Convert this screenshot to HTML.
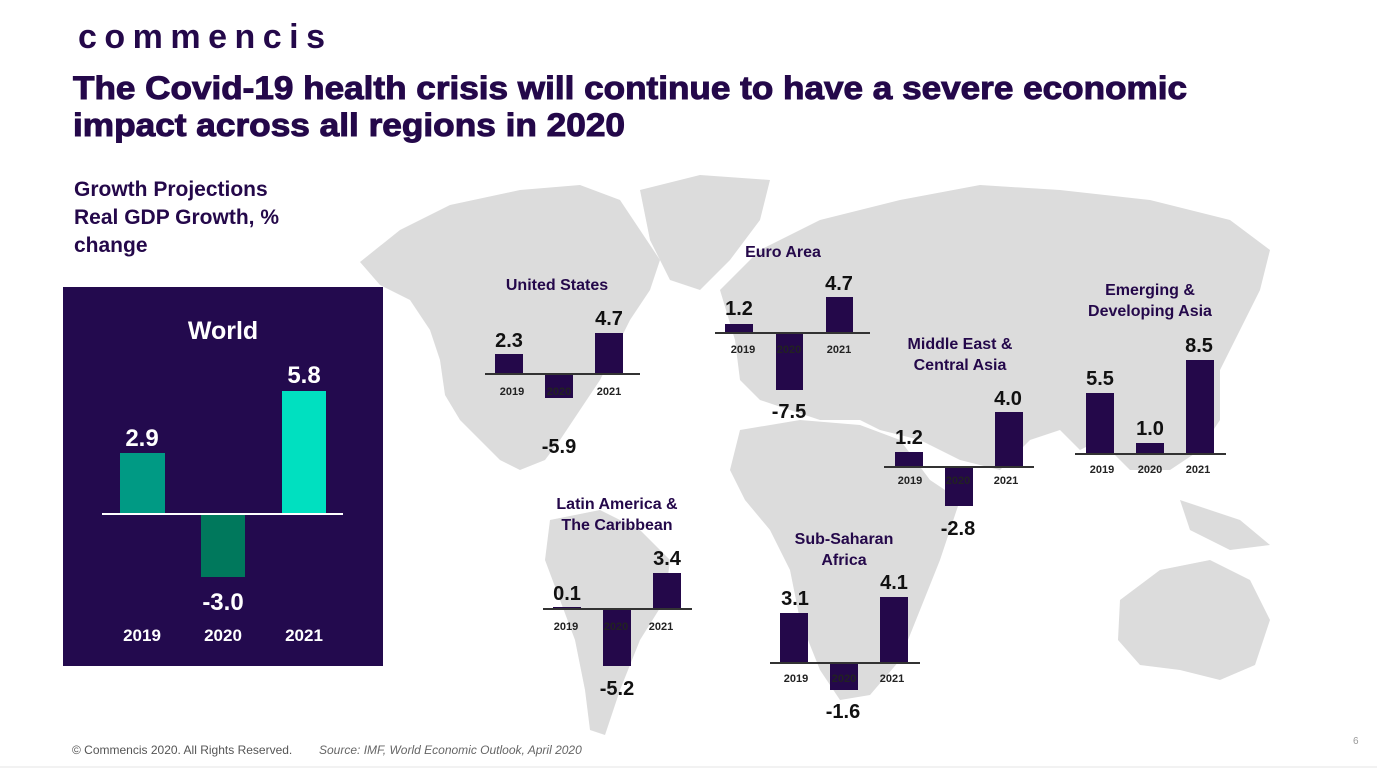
<!DOCTYPE html>
<html><head><meta charset="utf-8"><style>
html,body{margin:0;padding:0;background:#fff;}
svg{display:block;font-family:"Liberation Sans",sans-serif;}
.rt{font-weight:bold;font-size:16px;fill:#24084a;text-anchor:middle;}
.rv{font-weight:bold;font-size:20px;fill:#111;text-anchor:middle;}
.ry{font-weight:bold;font-size:11px;fill:#222;text-anchor:middle;}
.b{fill:#24084a;}
.bl{stroke:#333;stroke-width:2;}
</style></head><body>
<svg width="1377" height="768" viewBox="0 0 1377 768">
<rect width="1377" height="768" fill="#fff"/>
<g fill="#dcdcdc">
<path d="M360 262 L400 230 L450 205 L520 190 L580 185 L620 200 L640 230 L660 260 L650 290 L630 320 L615 350 L600 380 L580 410 L560 440 L545 460 L520 470 L500 460 L480 440 L460 420 L445 395 L440 360 L430 330 L410 300 L380 285 Z"/>
<path d="M640 190 L700 175 L770 180 L760 220 L730 260 L700 290 L670 280 L650 240 Z"/>
<path d="M720 290 L760 250 L820 220 L900 200 L980 185 L1060 190 L1150 200 L1230 220 L1270 250 L1260 290 L1240 330 L1220 370 L1220 420 L1200 450 L1170 470 L1130 470 L1100 440 L1080 450 L1060 430 L1030 440 L1000 470 L960 460 L920 440 L880 430 L860 420 L820 420 L790 410 L760 400 L740 380 L735 340 Z"/>
<path d="M740 430 L800 420 L860 425 L900 440 L930 480 L960 500 L940 560 L920 610 L900 660 L870 695 L840 700 L820 670 L800 620 L790 570 L770 530 L745 500 L730 470 Z"/>
<path d="M550 520 L600 510 L640 530 L670 560 L665 600 L640 640 L620 690 L605 735 L590 730 L585 690 L575 640 L560 600 L545 560 Z"/>
<path d="M1120 600 L1160 570 L1210 560 L1250 580 L1270 620 L1255 665 L1220 680 L1180 670 L1140 665 L1118 640 Z"/>
<path d="M1180 500 L1240 520 L1270 545 L1230 550 L1190 530 Z"/>
</g>
<text x="78" y="48" font-size="34" font-weight="bold" fill="#24084a" letter-spacing="3" textLength="250">commencis</text>
<g fill="#24084a" stroke="#24084a" stroke-width="1">
<text x="73" y="99" font-size="32" font-weight="900" textLength="1114" lengthAdjust="spacingAndGlyphs">The Covid-19 health crisis will continue to have a severe economic</text>
<text x="73" y="136" font-size="32" font-weight="900" textLength="552" lengthAdjust="spacingAndGlyphs">impact across all regions in 2020</text>
</g>
<g font-size="21" font-weight="bold" fill="#24084a">
<text x="74" y="196">Growth Projections</text>
<text x="74" y="224">Real GDP Growth, %</text>
<text x="74" y="252">change</text>
</g>
<rect x="63" y="287" width="320" height="379" fill="#230a4e"/>
<text x="223" y="339" font-size="25" font-weight="bold" fill="#fff" text-anchor="middle">World</text>
<rect x="120" y="453" width="45" height="61" fill="#009a84"/>
<rect x="201" y="514" width="44" height="63" fill="#00785c"/>
<rect x="282" y="391" width="44" height="123" fill="#00e0c0"/>
<line x1="102" y1="514" x2="343" y2="514" stroke="#fff" stroke-width="2"/>
<g font-size="24" font-weight="bold" fill="#fff" text-anchor="middle">
<text x="142" y="446">2.9</text><text x="223" y="610">-3.0</text><text x="304" y="383">5.8</text>
</g>
<g font-size="17" font-weight="bold" fill="#fff" text-anchor="middle">
<text x="142" y="641">2019</text><text x="223" y="641">2020</text><text x="304" y="641">2021</text>
</g>
<text class="rt" x="557" y="290">United States</text>
<rect class="b" x="495" y="354" width="28" height="20"/><rect class="b" x="545" y="374" width="28" height="24"/><rect class="b" x="595" y="333" width="28" height="41"/>
<line class="bl" x1="485" y1="374" x2="640" y2="374"/>
<text class="rv" x="509" y="347">2.3</text><text class="rv" x="609" y="325">4.7</text><text class="rv" x="559" y="453">-5.9</text>
<text class="ry" x="512" y="395">2019</text><text class="ry" x="559" y="395">2020</text><text class="ry" x="609" y="395">2021</text>
<text class="rt" x="783" y="257">Euro Area</text>
<rect class="b" x="725" y="324" width="28" height="9"/><rect class="b" x="776" y="333" width="27" height="57"/><rect class="b" x="826" y="297" width="27" height="36"/>
<line class="bl" x1="715" y1="333" x2="870" y2="333"/>
<text class="rv" x="739" y="315">1.2</text><text class="rv" x="839" y="290">4.7</text><text class="rv" x="789" y="418">-7.5</text>
<text class="ry" x="743" y="353">2019</text><text class="ry" x="789" y="353">2020</text><text class="ry" x="839" y="353">2021</text>
<text class="rt" x="960" y="349">Middle East &amp;</text><text class="rt" x="960" y="370">Central Asia</text>
<rect class="b" x="895" y="452" width="28" height="15"/><rect class="b" x="945" y="467" width="28" height="39"/><rect class="b" x="995" y="412" width="28" height="55"/>
<line class="bl" x1="884" y1="467" x2="1034" y2="467"/>
<text class="rv" x="909" y="444">1.2</text><text class="rv" x="1008" y="405">4.0</text><text class="rv" x="958" y="535">-2.8</text>
<text class="ry" x="910" y="484">2019</text><text class="ry" x="958" y="484">2020</text><text class="ry" x="1006" y="484">2021</text>
<text class="rt" x="1150" y="295">Emerging &amp;</text><text class="rt" x="1150" y="316">Developing Asia</text>
<rect class="b" x="1086" y="393" width="28" height="61"/><rect class="b" x="1136" y="443" width="28" height="11"/><rect class="b" x="1186" y="360" width="28" height="94"/>
<line class="bl" x1="1075" y1="454" x2="1226" y2="454"/>
<text class="rv" x="1100" y="385">5.5</text><text class="rv" x="1150" y="435">1.0</text><text class="rv" x="1199" y="352">8.5</text>
<text class="ry" x="1102" y="473">2019</text><text class="ry" x="1150" y="473">2020</text><text class="ry" x="1198" y="473">2021</text>
<text class="rt" x="617" y="509">Latin America &amp;</text><text class="rt" x="617" y="530">The Caribbean</text>
<rect class="b" x="553" y="607" width="28" height="2"/><rect class="b" x="603" y="609" width="28" height="57"/><rect class="b" x="653" y="573" width="28" height="36"/>
<line class="bl" x1="543" y1="609" x2="692" y2="609"/>
<text class="rv" x="567" y="600">0.1</text><text class="rv" x="667" y="565">3.4</text><text class="rv" x="617" y="695">-5.2</text>
<text class="ry" x="566" y="630">2019</text><text class="ry" x="616" y="630">2020</text><text class="ry" x="661" y="630">2021</text>
<text class="rt" x="844" y="544">Sub-Saharan</text><text class="rt" x="844" y="565">Africa</text>
<rect class="b" x="780" y="613" width="28" height="50"/><rect class="b" x="830" y="663" width="28" height="27"/><rect class="b" x="880" y="597" width="28" height="66"/>
<line class="bl" x1="770" y1="663" x2="920" y2="663"/>
<text class="rv" x="795" y="605">3.1</text><text class="rv" x="894" y="589">4.1</text><text class="rv" x="843" y="718">-1.6</text>
<text class="ry" x="796" y="682">2019</text><text class="ry" x="844" y="682">2020</text><text class="ry" x="892" y="682">2021</text>
<text x="72" y="754" font-size="12" fill="#555">© Commencis 2020. All Rights Reserved.</text>
<text x="319" y="754" font-size="12" font-style="italic" fill="#666">Source: IMF, World Economic Outlook, April 2020</text>
<text x="1353" y="744" font-size="10" fill="#999">6</text>
<line x1="0" y1="767" x2="1377" y2="767" stroke="#e5e5e5"/>
</svg>
</body></html>
